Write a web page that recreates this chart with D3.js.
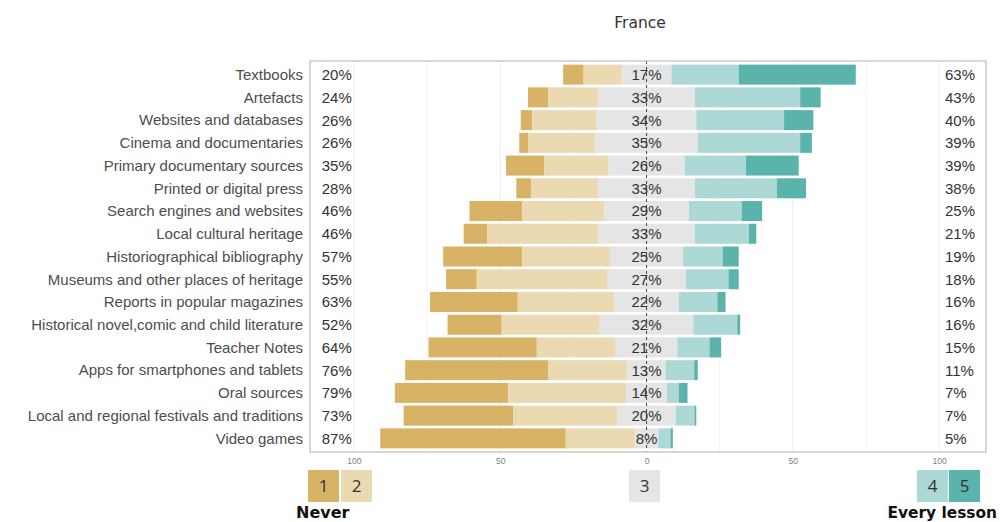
<!DOCTYPE html>
<html>
<head>
<meta charset="utf-8">
<script src="https://cdn.jsdelivr.net/npm/d3@7"></script>
<style>
  body { margin: 0; background: #fff; }
  svg { display: block; }
</style>
</head>
<body>
<svg id="chart" width="1000" height="522"></svg>
<script>
// ---------------- data ----------------
const title = "France";
const categories = [
  "Textbooks", "Artefacts", "Websites and databases", "Cinema and documentaries",
  "Primary documentary sources", "Printed or digital press", "Search engines and websites",
  "Local cultural heritage", "Historiographical bibliography", "Museums and other places of heritage",
  "Reports in popular magazines", "Historical novel,comic and child literature", "Teacher Notes",
  "Apps for smartphones and tablets", "Oral sources", "Local and regional festivals and traditions",
  "Video games"
];
// percentage of answers per level (1 = Never ... 5 = Every lesson)
const level1 = [7, 7, 4, 3, 13, 5, 18, 8, 27, 10.5, 30, 18.5, 37, 49, 38.7, 37.4, 63.4];
const level2 = [13, 17, 22, 23, 22, 23, 28, 38, 30, 44.5, 33, 33.5, 27, 27, 40.3, 35.6, 23.6];
const level3 = [17, 33, 34, 35, 26, 33, 29, 33, 25, 27, 22, 32, 21, 13, 14, 20, 8];
const level4 = [23, 36, 30, 35, 21, 28, 18, 18.5, 13.6, 14.5, 13.2, 15, 11, 9.8, 4, 6.4, 4.2];
const level5 = [40, 7, 10, 4, 18, 10, 7, 2.5, 5.4, 3.5, 2.8, 1, 4, 1.2, 3, 0.6, 0.8];
const levelNames = ["1", "2", "3", "4", "5"];
const levelColors = ["#D8B365", "#EBD9B2", "#E5E5E5", "#ACD9D5", "#5AB4AC"];
const axisTicks = [-100, -50, 0, 50, 100];
const minorTicks = [-75, -25, 25, 75];
const lowLabel = "Never";
const highLabel = "Every lesson";

// ---------------- layout ----------------
const svg = d3.select("#chart");
const panel = { left: 310, right: 986, top: 61, bottom: 452 };

const x = d3.scaleLinear().domain([-115, 116]).range([panel.left, panel.right]);
const y = d3.scalePoint().domain(categories).range([panel.top, panel.bottom]).padding(0.6);
const barH = 20;

// gridlines
const g = svg.append("g");
g.selectAll("line.minor").data(minorTicks).join("line")
  .attr("x1", d => x(d)).attr("x2", d => x(d))
  .attr("y1", panel.top).attr("y2", panel.bottom)
  .attr("stroke", "#F4F4F4").attr("stroke-width", 1);
g.selectAll("line.major").data(axisTicks.filter(d => d !== 0)).join("line")
  .attr("x1", d => x(d)).attr("x2", d => x(d))
  .attr("y1", panel.top).attr("y2", panel.bottom)
  .attr("stroke", "#EDEDED").attr("stroke-width", 1);

// stacked bars, neutral centered on 0
const rows = categories.map((c, i) => {
  const v = [level1[i], level2[i], level3[i], level4[i], level5[i]];
  const start = -(v[0] + v[1] + v[2] / 2);
  let acc = start;
  const segs = v.map((val, k) => {
    const s = { cat: c, k, x0: acc, x1: acc + val };
    acc += val;
    return s;
  });
  return { cat: c, v, segs };
});

svg.append("g").selectAll("g").data(rows).join("g")
  .selectAll("rect").data(d => d.segs).join("rect")
  .attr("x", d => x(d.x0))
  .attr("width", d => Math.max(0, x(d.x1) - x(d.x0)))
  .attr("y", d => y(d.cat) - barH / 2)
  .attr("height", barH)
  .attr("fill", d => levelColors[d.k]);

// zero dashed line
svg.append("line")
  .attr("x1", x(0)).attr("x2", x(0))
  .attr("y1", panel.top).attr("y2", panel.bottom)
  .attr("stroke", "#444").attr("stroke-width", 1)
  .attr("stroke-dasharray", "3,3");

// panel border
svg.append("rect")
  .attr("x", panel.left).attr("y", panel.top)
  .attr("width", panel.right - panel.left).attr("height", panel.bottom - panel.top)
  .attr("fill", "none").attr("stroke", "#BDBDBD").attr("stroke-width", 1.2);

// percentage labels
const lab = svg.append("g")
  .attr("font-family", "Liberation Sans, Arial, sans-serif")
  .attr("font-size", 15).attr("fill", "#333");
lab.selectAll("text.l").data(rows).join("text")
  .attr("x", x(-111)).attr("y", d => y(d.cat)).attr("dy", "0.36em")
  .attr("text-anchor", "start")
  .text(d => Math.round(d.v[0] + d.v[1]) + "%");
lab.selectAll("text.c").data(rows).join("text")
  .attr("x", x(0)).attr("y", d => y(d.cat)).attr("dy", "0.36em")
  .attr("text-anchor", "middle")
  .text(d => Math.round(d.v[2]) + "%");
lab.selectAll("text.r").data(rows).join("text")
  .attr("x", x(102)).attr("y", d => y(d.cat)).attr("dy", "0.36em")
  .attr("text-anchor", "start")
  .text(d => Math.round(d.v[3] + d.v[4]) + "%");

// y axis
const yAxis = svg.append("g")
  .attr("transform", `translate(${panel.left},0)`)
  .call(d3.axisLeft(y).tickSize(0).tickPadding(7));
yAxis.select(".domain").remove();
yAxis.selectAll("text")
  .attr("font-family", "Liberation Sans, Arial, sans-serif")
  .attr("font-size", 15).attr("fill", "#4D4D4D");

// x axis
const xAxis = svg.append("g")
  .attr("transform", `translate(0,${panel.bottom})`)
  .call(d3.axisBottom(x).tickValues(axisTicks).tickFormat(d => Math.abs(d)).tickSize(0).tickPadding(6));
xAxis.select(".domain").remove();
xAxis.selectAll("text")
  .attr("font-family", "Liberation Sans, Arial, sans-serif")
  .attr("font-size", 8.5).attr("fill", "#7F7F7F");

// title
svg.append("text")
  .attr("x", 640).attr("y", 28)
  .attr("text-anchor", "middle")
  .attr("font-family", "DejaVu Sans, sans-serif")
  .attr("font-size", 15.5).attr("fill", "#333")
  .text(title);

// legend
const legendX = [308, 341, 629, 917, 949];
const lg = svg.append("g");
const items = lg.selectAll("g").data(levelNames).join("g")
  .attr("transform", (d, i) => `translate(${legendX[i]},470)`);
items.append("rect").attr("width", 31).attr("height", 32)
  .attr("fill", (d, i) => levelColors[i]);
items.append("text").attr("x", 15.5).attr("y", 16).attr("dy", "0.36em")
  .attr("text-anchor", "middle")
  .attr("font-family", "Open Sans, DejaVu Sans, sans-serif")
  .attr("font-size", 17).attr("fill", "#333")
  .text(d => d);

lg.append("text").attr("x", 296).attr("y", 518)
  .attr("font-family", "DejaVu Sans, sans-serif").attr("font-weight", "bold")
  .attr("font-size", 16).attr("fill", "#111")
  .text(lowLabel);
lg.append("text").attr("x", 997).attr("y", 518)
  .attr("text-anchor", "end")
  .attr("font-family", "DejaVu Sans, sans-serif").attr("font-weight", "bold")
  .attr("font-size", 15.4).attr("fill", "#111")
  .text(highLabel);
</script>
</body>
</html>
